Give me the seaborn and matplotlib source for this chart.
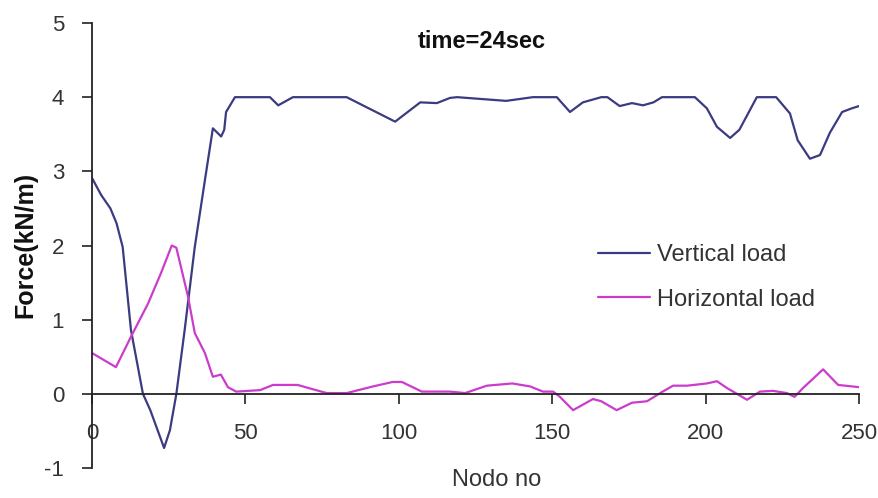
import numpy as np
import pandas as pd
import matplotlib
matplotlib.use("Agg")
import matplotlib.pyplot as plt
import seaborn as sns

# ---- data ----
vert_x = [0, 3, 6, 8, 10, 12.7, 16.6, 19, 23.5, 25.4, 27.5, 30.2, 33.5, 36.8, 39.4,
          42.1, 43.1, 43.7, 46.6, 58, 60.7, 65.5, 83, 98.8, 107, 112.4, 116.7,
          119, 135, 143.7, 151.5, 155.8, 160, 166, 168, 172, 176, 179.6, 183,
          185.8, 196.5, 200.4, 203.7, 208, 211, 216.7, 223, 227.5, 230, 234,
          237.3, 240.5, 244.5, 247.7, 250]
vert_y = [2.91, 2.68, 2.5, 2.3, 1.98, 0.86, 0.0, -0.22, -0.73, -0.49, 0.0, 0.86, 1.98,
          2.88, 3.58, 3.47, 3.56, 3.80, 4.0, 4.0, 3.89, 4.0, 4.0, 3.67, 3.93,
          3.92, 3.99, 4.0, 3.95, 4.0, 4.0, 3.80, 3.93, 4.0, 4.0, 3.88, 3.92,
          3.89, 3.93, 4.0, 4.0, 3.85, 3.60, 3.45, 3.56, 4.0, 4.0, 3.78, 3.42,
          3.17, 3.22, 3.52, 3.80, 3.85, 3.88]

horz_x = [0, 7.8, 12.7, 18.3, 22.5, 26, 27.5, 31.3, 33.5, 36.8, 39.4, 42, 44.3,
          47, 54.8, 59, 67, 76.5, 83, 91.6, 98, 101, 107.5, 116.7, 121.6, 128.7,
          137, 142.8, 147, 150.3, 152.5, 156.8, 163.3, 166, 171, 176, 180.9,
          186, 189.4, 194, 200.4, 203.7, 206.9, 213.5, 217.7, 222, 226.5, 229,
          231.8, 238.3, 243.2, 250]
horz_y = [0.55, 0.36, 0.77, 1.22, 1.63, 2.0, 1.97, 1.31, 0.82, 0.55, 0.23, 0.26,
          0.09, 0.03, 0.05, 0.12, 0.12, 0.01, 0.01, 0.10, 0.16, 0.16, 0.03, 0.03,
          0.01, 0.11, 0.14, 0.10, 0.03, 0.03, -0.04, -0.22, -0.07, -0.10, -0.22,
          -0.12, -0.10, 0.03, 0.11, 0.11, 0.14, 0.17, 0.08, -0.08, 0.03, 0.04,
          0.01, -0.04, 0.08, 0.33, 0.12, 0.09]

x_ticks = [0, 50, 100, 150, 200, 250]
y_ticks = [-1, 0, 1, 2, 3, 4, 5]
series_names = ["Vertical load", "Horizontal load"]
title_text = "time=24sec"
x_label = "Nodo no"
y_label = "Force(kN/m)"

# ---- styling ----
sns.set_style("white")
plt.rcParams["font.family"] = ["Liberation Sans", "DejaVu Sans"]
plt.rcParams["axes.unicode_minus"] = False

W, H = 879, 498
fig = plt.figure(figsize=(W / 100, H / 100), dpi=100)
ax = fig.add_axes([92 / W, 1 - 468 / H, (859 - 92) / W, (468 - 23) / H])

df_v = pd.DataFrame({"x": vert_x, "y": vert_y})
df_h = pd.DataFrame({"x": horz_x, "y": horz_y})
sns.lineplot(data=df_v, x="x", y="y", ax=ax, color="#3b3b82", linewidth=1.6,
             label=series_names[0], sort=False)
sns.lineplot(data=df_h, x="x", y="y", ax=ax, color="#cc3ccc", linewidth=1.6,
             label=series_names[1], sort=False)

ax.set_xlim(0, 250)
ax.set_ylim(-1, 5)
ax.set_xticks(x_ticks)
ax.set_yticks(y_ticks)

for s in ["top", "right"]:
    ax.spines[s].set_visible(False)
ax.spines["bottom"].set_position(("data", 0))
ax.spines["bottom"].set_color("#222222")
ax.spines["left"].set_color("#222222")
ax.spines["bottom"].set_linewidth(1.3)
ax.spines["left"].set_linewidth(1.3)

ax.tick_params(axis="x", direction="out", length=7, width=1.2, pad=14,
               labelsize=16, colors="#222222", bottom=True)
ax.tick_params(axis="y", direction="out", length=7, width=1.2, pad=13,
               labelsize=16, colors="#222222", left=True)
for lab in ax.get_xticklabels() + ax.get_yticklabels():
    lab.set_color("#333333")

ax.set_xlabel("")
ax.set_ylabel("")
fig.text(497 / W, 1 - 480 / H, x_label, ha="center", va="center",
         fontsize=17, color="#333333")
fig.text(25 / W, 1 - 245 / H, y_label, ha="center", va="center",
         rotation=90, fontsize=18, fontweight="bold", color="#111111")
fig.text(482 / W, 1 - 42 / H, title_text, ha="center", va="center",
         fontsize=17, fontweight="bold", color="#111111")

leg = ax.legend(loc="center left", bbox_to_anchor=(598 / W, 1 - 277.5 / H),
                bbox_transform=fig.transFigure, frameon=False, fontsize=17,
                handlelength=2.2, handletextpad=0.3, labelspacing=0.95,
                borderpad=0, borderaxespad=0)
for t in leg.get_texts():
    t.set_color("#333333")

fig.savefig("out.png", dpi=100)
